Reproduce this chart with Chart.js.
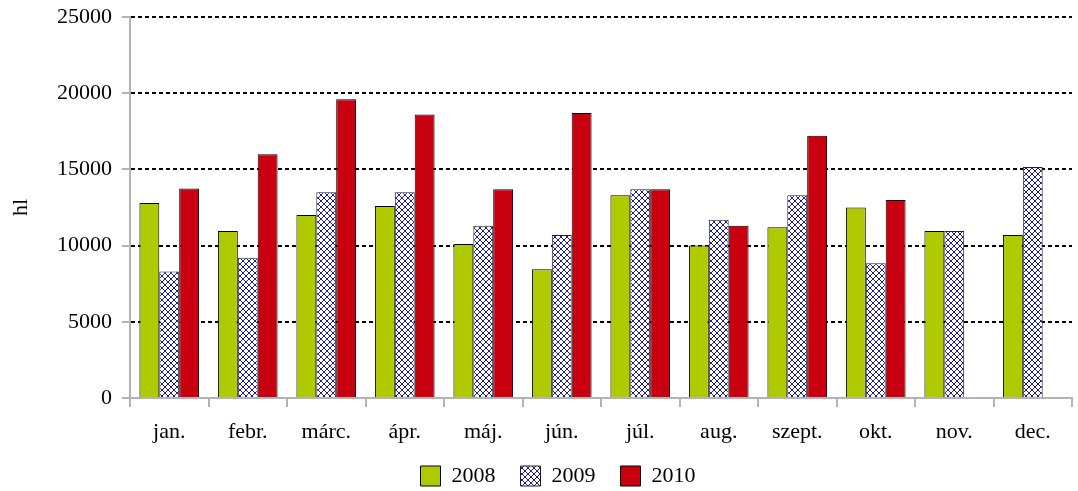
<!DOCTYPE html>
<html><head><meta charset="utf-8">
<script src="https://cdn.jsdelivr.net/npm/chart.js@4/dist/chart.umd.min.js"></script>
<style>html,body{margin:0;padding:0;background:#fff}#wrap{width:1078px;height:491px}</style>
</head><body><div id="wrap"><canvas id="c" width="1078" height="491"></canvas></div>
<script>
const categories = ['jan.','febr.','márc.','ápr.','máj.','jún.','júl.','aug.','szept.','okt.','nov.','dec.'];
const series2008 = [12800,10950,12000,12600,10100,8450,13300,10000,11200,12500,10950,10700];
const series2009 = [8300,9200,13500,13500,11300,10700,13700,11700,13300,8850,10950,15150];
const series2010 = [13750,16000,19600,18600,13700,18700,13700,11300,17200,13000,null,null];
const seriesNames = ['2008','2009','2010'];
const yTitle = 'hl';

function hatch(){
  const p = document.createElement('canvas'); p.width = 6; p.height = 6;
  const g = p.getContext('2d');
  g.fillStyle = '#fff'; g.fillRect(0,0,6,6);
  g.strokeStyle = '#1c1c96'; g.lineWidth = 1;
  g.beginPath(); g.moveTo(0,0); g.lineTo(6,6); g.moveTo(6,0); g.lineTo(0,6); g.stroke();
  return g.createPattern(p,'repeat');
}
const font = {family:'"Liberation Serif", serif', size:22};
Chart.defaults.font.family = font.family;
Chart.defaults.color = '#000';
const legendShift = {id:'legendShift', afterLayout(chart){ const l = chart.legend; if(l){ l.top -= 7; l.left += 22; l.right += 22; } }};
new Chart(document.getElementById('c'), {
  type:'bar',
  data:{labels:categories, datasets:[
    {label:seriesNames[0], data:series2008, backgroundColor:'#afcb00', borderColor:'#000', borderWidth:1},
    {label:seriesNames[1], data:series2009, backgroundColor:hatch(), borderColor:'#222', borderWidth:1},
    {label:seriesNames[2], data:series2010, backgroundColor:'#c8000f', borderColor:'#000', borderWidth:1}
  ]},
  plugins:[legendShift],
  options:{
    responsive:false, animation:false,
    layout:{padding:{top:17,right:6,left:0,bottom:0}},
    datasets:{bar:{categoryPercentage:0.76, barPercentage:1}},
    plugins:{tooltip:{enabled:false},
      legend:{position:'bottom', maxHeight:44, labels:{font:font, boxWidth:20, boxHeight:20, padding:25}}},
    scales:{
      x:{grid:{offset:true, drawOnChartArea:false, color:'#b3b3b3', lineWidth:2, tickLength:9},
         border:{color:'#b3b3b3', width:2},
         ticks:{font:font, padding:12, color:'#000'},
         afterFit:s=>{s.height=49; s.paddingLeft=0; s.paddingRight=0;}},
      y:{min:0, max:25000, 
         ticks:{stepSize:5000, font:font, padding:10, color:'#000', callback:v=>String(v)},
         grid:{color:c=>c.tick && c.tick.value===0?'rgba(0,0,0,0)':'#000', lineWidth:2, tickColor:'#b3b3b3', tickLength:8, tickWidth:2},
         border:{color:'#b3b3b3', width:2, dash:[4,3]},
         title:{display:true, text:yTitle, font:font, padding:{top:8,bottom:0}},
         afterFit:s=>{s.width=130; s.paddingTop=0; s.paddingBottom=0;}}
    }
  }
});
</script></body></html>
